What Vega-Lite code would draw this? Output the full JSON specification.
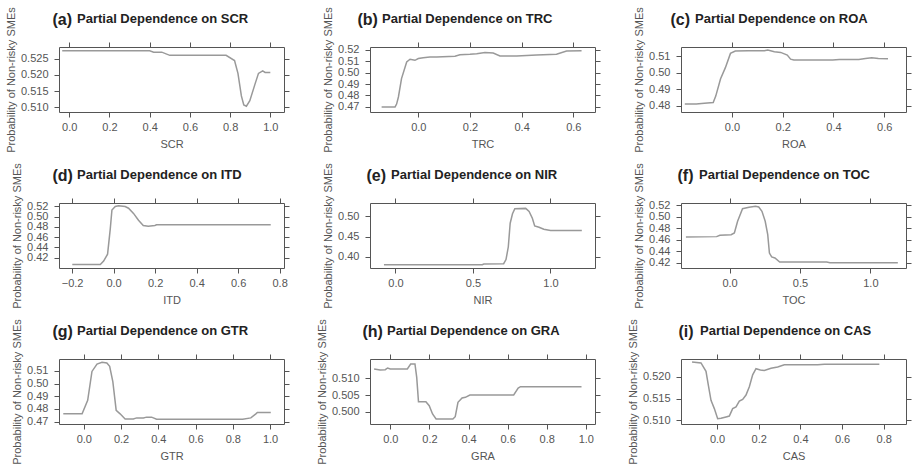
{
"$schema": "https://vega.github.io/schema/vega-lite/v6.json",
"background": "white",
"padding": {"left": 5, "top": 6, "right": 1, "bottom": 1},
"bounds": "flush",
"columns": 3,
"spacing": {"row": 91, "column": 86},
"concat": [
{
"title": {"text": "Partial Dependence on SCR", "dx": 18},
"width": 225, "height": 65,
"data": {"values": [
{"SCR": -0.035, "prob": 0.5275}, {"SCR": 0.40, "prob": 0.5275}, {"SCR": 0.42, "prob": 0.5271}, {"SCR": 0.46, "prob": 0.5271},
{"SCR": 0.50, "prob": 0.5261}, {"SCR": 0.78, "prob": 0.5261}, {"SCR": 0.822, "prob": 0.5245}, {"SCR": 0.839, "prob": 0.5205},
{"SCR": 0.856, "prob": 0.5135}, {"SCR": 0.868, "prob": 0.5107}, {"SCR": 0.881, "prob": 0.5103}, {"SCR": 0.898, "prob": 0.512},
{"SCR": 0.923, "prob": 0.517}, {"SCR": 0.941, "prob": 0.5205}, {"SCR": 0.962, "prob": 0.5213}, {"SCR": 0.974, "prob": 0.5208},
{"SCR": 1.0, "prob": 0.5208}
]},
"layer": [
{"mark": {"type": "line", "color": "#999999", "strokeWidth": 1.5},
 "encoding": {
  "x": {"field": "SCR", "type": "quantitative", "scale": {"domain": [-0.051, 1.068], "nice": false, "zero": false}, "axis": {"orient": "bottom", "title": "SCR", "values": [0, 0.2, 0.4, 0.6, 0.8, 1.0], "format": ".1f"}},
  "y": {"field": "prob", "type": "quantitative", "scale": {"domain": [0.5085, 0.5287], "nice": false, "zero": false}, "axis": {"orient": "left", "title": "Probability of Non-risky SMEs", "values": [0.510, 0.515, 0.520, 0.525], "format": ".3f"}}}},
{"mark": {"type": "line", "strokeOpacity": 0},
 "encoding": {
  "x": {"field": "SCR", "type": "quantitative", "scale": {"domain": [-0.051, 1.068], "nice": false, "zero": false}, "axis": {"orient": "top", "title": "(a)", "titleX": -7, "labels": false, "values": [0, 0.2, 0.4, 0.6, 0.8, 1.0]}},
  "y": {"field": "prob", "type": "quantitative", "scale": {"domain": [0.5085, 0.5287], "nice": false, "zero": false}, "axis": {"orient": "right", "title": null, "labels": false, "values": [0.510, 0.515, 0.520, 0.525]}}}}
],
"resolve": {"axis": {"x": "independent", "y": "independent"}}
},
{
"title": {"text": "Partial Dependence on TRC", "dx": 12},
"width": 225, "height": 65,
"data": {"values": [
{"TRC": -0.142, "prob": 0.470}, {"TRC": -0.09, "prob": 0.470}, {"TRC": -0.084, "prob": 0.4725}, {"TRC": -0.077, "prob": 0.4787},
{"TRC": -0.065, "prob": 0.4947}, {"TRC": -0.045, "prob": 0.5092}, {"TRC": -0.032, "prob": 0.5116}, {"TRC": -0.013, "prob": 0.5107},
{"TRC": 0.0, "prob": 0.5122}, {"TRC": 0.019, "prob": 0.513}, {"TRC": 0.045, "prob": 0.5136}, {"TRC": 0.071, "prob": 0.5136},
{"TRC": 0.142, "prob": 0.5142}, {"TRC": 0.161, "prob": 0.5156}, {"TRC": 0.2, "prob": 0.5159}, {"TRC": 0.226, "prob": 0.5165},
{"TRC": 0.258, "prob": 0.5174}, {"TRC": 0.29, "prob": 0.5171}, {"TRC": 0.316, "prob": 0.5145}, {"TRC": 0.381, "prob": 0.5145},
{"TRC": 0.458, "prob": 0.5153}, {"TRC": 0.535, "prob": 0.5159}, {"TRC": 0.574, "prob": 0.5188}, {"TRC": 0.632, "prob": 0.5191}
]},
"layer": [
{"mark": {"type": "line", "color": "#999999", "strokeWidth": 1.5},
 "encoding": {
  "x": {"field": "TRC", "type": "quantitative", "scale": {"domain": [-0.187, 0.684], "nice": false, "zero": false}, "axis": {"orient": "bottom", "title": "TRC", "values": [0, 0.2, 0.4, 0.6], "format": ".1f"}},
  "y": {"field": "prob", "type": "quantitative", "scale": {"domain": [0.4656, 0.5223], "nice": false, "zero": false}, "axis": {"orient": "left", "title": "Probability of Non-risky SMEs", "values": [0.47, 0.48, 0.49, 0.50, 0.51, 0.52], "format": ".2f"}}}},
{"mark": {"type": "line", "strokeOpacity": 0},
 "encoding": {
  "x": {"field": "TRC", "type": "quantitative", "scale": {"domain": [-0.187, 0.684], "nice": false, "zero": false}, "axis": {"orient": "top", "title": "(b)", "titleX": -13, "labels": false, "values": [0, 0.2, 0.4, 0.6]}},
  "y": {"field": "prob", "type": "quantitative", "scale": {"domain": [0.4656, 0.5223], "nice": false, "zero": false}, "axis": {"orient": "right", "title": null, "labels": false, "values": [0.47, 0.48, 0.49, 0.50, 0.51, 0.52]}}}}
],
"resolve": {"axis": {"x": "independent", "y": "independent"}}
},
{
"title": {"text": "Partial Dependence on ROA", "dx": 14},
"width": 225, "height": 65,
"data": {"values": [
{"ROA": -0.186, "prob": 0.481}, {"ROA": -0.141, "prob": 0.481}, {"ROA": -0.109, "prob": 0.4815}, {"ROA": -0.074, "prob": 0.4819},
{"ROA": -0.064, "prob": 0.4858}, {"ROA": -0.045, "prob": 0.4964}, {"ROA": -0.026, "prob": 0.5032}, {"ROA": -0.006, "prob": 0.5119},
{"ROA": 0.013, "prob": 0.5133}, {"ROA": 0.064, "prob": 0.5135}, {"ROA": 0.128, "prob": 0.5135}, {"ROA": 0.141, "prob": 0.5139},
{"ROA": 0.167, "prob": 0.5129}, {"ROA": 0.192, "prob": 0.5125}, {"ROA": 0.218, "prob": 0.5109}, {"ROA": 0.231, "prob": 0.5084},
{"ROA": 0.244, "prob": 0.5079}, {"ROA": 0.397, "prob": 0.5079}, {"ROA": 0.423, "prob": 0.5081}, {"ROA": 0.5, "prob": 0.5082},
{"ROA": 0.526, "prob": 0.5088}, {"ROA": 0.551, "prob": 0.5092}, {"ROA": 0.577, "prob": 0.5088}, {"ROA": 0.615, "prob": 0.5086}
]},
"layer": [
{"mark": {"type": "line", "color": "#999999", "strokeWidth": 1.5},
 "encoding": {
  "x": {"field": "ROA", "type": "quantitative", "scale": {"domain": [-0.201, 0.686], "nice": false, "zero": false}, "axis": {"orient": "bottom", "title": "ROA", "values": [0, 0.2, 0.4, 0.6], "format": ".1f"}},
  "y": {"field": "prob", "type": "quantitative", "scale": {"domain": [0.4761, 0.5158], "nice": false, "zero": false}, "axis": {"orient": "left", "title": "Probability of Non-risky SMEs", "values": [0.48, 0.49, 0.50, 0.51], "format": ".2f"}}}},
{"mark": {"type": "line", "strokeOpacity": 0},
 "encoding": {
  "x": {"field": "ROA", "type": "quantitative", "scale": {"domain": [-0.201, 0.686], "nice": false, "zero": false}, "axis": {"orient": "top", "title": "(c)", "titleX": -11, "labels": false, "values": [0, 0.2, 0.4, 0.6]}},
  "y": {"field": "prob", "type": "quantitative", "scale": {"domain": [0.4761, 0.5158], "nice": false, "zero": false}, "axis": {"orient": "right", "title": null, "labels": false, "values": [0.48, 0.49, 0.50, 0.51]}}}}
],
"resolve": {"axis": {"x": "independent", "y": "independent"}}
},
{
"title": {"text": "Partial Dependence on ITD", "dx": 18},
"width": 225, "height": 65,
"data": {"values": [
{"ITD": -0.199, "prob": 0.4065}, {"ITD": -0.064, "prob": 0.4065}, {"ITD": -0.048, "prob": 0.4132}, {"ITD": -0.029, "prob": 0.4268},
{"ITD": -0.016, "prob": 0.4761}, {"ITD": -0.008, "prob": 0.5132}, {"ITD": 0.008, "prob": 0.52}, {"ITD": 0.024, "prob": 0.5214},
{"ITD": 0.056, "prob": 0.52}, {"ITD": 0.072, "prob": 0.5166}, {"ITD": 0.096, "prob": 0.5065}, {"ITD": 0.12, "prob": 0.493},
{"ITD": 0.143, "prob": 0.4828}, {"ITD": 0.167, "prob": 0.4815}, {"ITD": 0.199, "prob": 0.4828}, {"ITD": 0.207, "prob": 0.4842},
{"ITD": 0.757, "prob": 0.4842}
]},
"layer": [
{"mark": {"type": "line", "color": "#999999", "strokeWidth": 1.5},
 "encoding": {
  "x": {"field": "ITD", "type": "quantitative", "scale": {"domain": [-0.263, 0.821], "nice": false, "zero": false}, "axis": {"orient": "bottom", "title": "ITD", "values": [-0.2, 0, 0.2, 0.4, 0.6, 0.8], "format": ".1f"}},
  "y": {"field": "prob", "type": "quantitative", "scale": {"domain": [0.3997, 0.5268], "nice": false, "zero": false}, "axis": {"orient": "left", "title": "Probability of Non-risky SMEs", "values": [0.42, 0.44, 0.46, 0.48, 0.50, 0.52], "format": ".2f"}}}},
{"mark": {"type": "line", "strokeOpacity": 0},
 "encoding": {
  "x": {"field": "ITD", "type": "quantitative", "scale": {"domain": [-0.263, 0.821], "nice": false, "zero": false}, "axis": {"orient": "top", "title": "(d)", "titleX": -7, "labels": false, "values": [-0.2, 0, 0.2, 0.4, 0.6, 0.8]}},
  "y": {"field": "prob", "type": "quantitative", "scale": {"domain": [0.3997, 0.5268], "nice": false, "zero": false}, "axis": {"orient": "right", "title": null, "labels": false, "values": [0.42, 0.44, 0.46, 0.48, 0.50, 0.52]}}}}
],
"resolve": {"axis": {"x": "independent", "y": "independent"}}
},
{
"title": {"text": "Partial Dependence on NIR", "dx": 21},
"width": 225, "height": 65,
"data": {"values": [
{"NIR": -0.074, "prob": 0.3808}, {"NIR": 0.56, "prob": 0.3808}, {"NIR": 0.57, "prob": 0.3825}, {"NIR": 0.698, "prob": 0.3833},
{"NIR": 0.713, "prob": 0.3933}, {"NIR": 0.728, "prob": 0.425}, {"NIR": 0.74, "prob": 0.4833}, {"NIR": 0.755, "prob": 0.5067},
{"NIR": 0.77, "prob": 0.5192}, {"NIR": 0.84, "prob": 0.52}, {"NIR": 0.862, "prob": 0.5125}, {"NIR": 0.883, "prob": 0.4958},
{"NIR": 0.898, "prob": 0.4767}, {"NIR": 0.926, "prob": 0.4733}, {"NIR": 0.957, "prob": 0.4683}, {"NIR": 1.0, "prob": 0.465},
{"NIR": 1.202, "prob": 0.465}
]},
"layer": [
{"mark": {"type": "line", "color": "#999999", "strokeWidth": 1.5},
 "encoding": {
  "x": {"field": "NIR", "type": "quantitative", "scale": {"domain": [-0.164, 1.287], "nice": false, "zero": false}, "axis": {"orient": "bottom", "title": "NIR", "values": [0, 0.5, 1.0], "format": ".1f"}},
  "y": {"field": "prob", "type": "quantitative", "scale": {"domain": [0.3725, 0.5333], "nice": false, "zero": false}, "axis": {"orient": "left", "title": "Probability of Non-risky SMEs", "values": [0.40, 0.45, 0.50], "format": ".2f"}}}},
{"mark": {"type": "line", "strokeOpacity": 0},
 "encoding": {
  "x": {"field": "NIR", "type": "quantitative", "scale": {"domain": [-0.164, 1.287], "nice": false, "zero": false}, "axis": {"orient": "top", "title": "(e)", "titleX": -4, "labels": false, "values": [0, 0.5, 1.0]}},
  "y": {"field": "prob", "type": "quantitative", "scale": {"domain": [0.3725, 0.5333], "nice": false, "zero": false}, "axis": {"orient": "right", "title": null, "labels": false, "values": [0.40, 0.45, 0.50]}}}}
],
"resolve": {"axis": {"x": "independent", "y": "independent"}}
},
{
"title": {"text": "Partial Dependence on TOC", "dx": 18},
"width": 225, "height": 65,
"data": {"values": [
{"TOC": -0.31, "prob": 0.4651}, {"TOC": -0.092, "prob": 0.4657}, {"TOC": -0.069, "prob": 0.468}, {"TOC": 0.011, "prob": 0.4691},
{"TOC": 0.034, "prob": 0.472}, {"TOC": 0.057, "prob": 0.4923}, {"TOC": 0.092, "prob": 0.5142}, {"TOC": 0.138, "prob": 0.5165},
{"TOC": 0.184, "prob": 0.5183}, {"TOC": 0.207, "prob": 0.5171}, {"TOC": 0.23, "prob": 0.5096}, {"TOC": 0.253, "prob": 0.4923},
{"TOC": 0.271, "prob": 0.4691}, {"TOC": 0.283, "prob": 0.4373}, {"TOC": 0.299, "prob": 0.4304}, {"TOC": 0.322, "prob": 0.4287},
{"TOC": 0.356, "prob": 0.4217}, {"TOC": 0.69, "prob": 0.4217}, {"TOC": 0.713, "prob": 0.4206}, {"TOC": 1.195, "prob": 0.4206}
]},
"layer": [
{"mark": {"type": "line", "color": "#999999", "strokeWidth": 1.5},
 "encoding": {
  "x": {"field": "TOC", "type": "quantitative", "scale": {"domain": [-0.345, 1.253], "nice": false, "zero": false}, "axis": {"orient": "bottom", "title": "TOC", "values": [0, 0.5, 1.0], "format": ".1f"}},
  "y": {"field": "prob", "type": "quantitative", "scale": {"domain": [0.4113, 0.524], "nice": false, "zero": false}, "axis": {"orient": "left", "title": "Probability of Non-risky SMEs", "values": [0.42, 0.44, 0.46, 0.48, 0.50, 0.52], "format": ".2f"}}}},
{"mark": {"type": "line", "strokeOpacity": 0},
 "encoding": {
  "x": {"field": "TOC", "type": "quantitative", "scale": {"domain": [-0.345, 1.253], "nice": false, "zero": false}, "axis": {"orient": "top", "title": "(f)", "titleX": -4, "labels": false, "values": [0, 0.5, 1.0]}},
  "y": {"field": "prob", "type": "quantitative", "scale": {"domain": [0.4113, 0.524], "nice": false, "zero": false}, "axis": {"orient": "right", "title": null, "labels": false, "values": [0.42, 0.44, 0.46, 0.48, 0.50, 0.52]}}}}
],
"resolve": {"axis": {"x": "independent", "y": "independent"}}
},
{
"title": {"text": "Partial Dependence on GTR", "dx": 18},
"width": 225, "height": 65,
"data": {"values": [
{"GTR": -0.11, "prob": 0.4761}, {"GTR": -0.009, "prob": 0.4761}, {"GTR": 0.021, "prob": 0.4868}, {"GTR": 0.044, "prob": 0.5095},
{"GTR": 0.071, "prob": 0.5153}, {"GTR": 0.098, "prob": 0.5167}, {"GTR": 0.124, "prob": 0.5161}, {"GTR": 0.139, "prob": 0.5135},
{"GTR": 0.156, "prob": 0.5015}, {"GTR": 0.174, "prob": 0.4788}, {"GTR": 0.195, "prob": 0.4761}, {"GTR": 0.222, "prob": 0.4721},
{"GTR": 0.266, "prob": 0.4721}, {"GTR": 0.284, "prob": 0.4729}, {"GTR": 0.32, "prob": 0.4729}, {"GTR": 0.337, "prob": 0.4735},
{"GTR": 0.364, "prob": 0.4735}, {"GTR": 0.391, "prob": 0.4719}, {"GTR": 0.853, "prob": 0.4719}, {"GTR": 0.897, "prob": 0.4729},
{"GTR": 0.924, "prob": 0.4761}, {"GTR": 0.932, "prob": 0.4772}, {"GTR": 1.004, "prob": 0.4772}
]},
"layer": [
{"mark": {"type": "line", "color": "#999999", "strokeWidth": 1.5},
 "encoding": {
  "x": {"field": "GTR", "type": "quantitative", "scale": {"domain": [-0.133, 1.075], "nice": false, "zero": false}, "axis": {"orient": "bottom", "title": "GTR", "values": [0, 0.2, 0.4, 0.6, 0.8, 1.0], "format": ".1f"}},
  "y": {"field": "prob", "type": "quantitative", "scale": {"domain": [0.4681, 0.5193], "nice": false, "zero": false}, "axis": {"orient": "left", "title": "Probability of Non-risky SMEs", "values": [0.47, 0.48, 0.49, 0.50, 0.51], "format": ".2f"}}}},
{"mark": {"type": "line", "strokeOpacity": 0},
 "encoding": {
  "x": {"field": "GTR", "type": "quantitative", "scale": {"domain": [-0.133, 1.075], "nice": false, "zero": false}, "axis": {"orient": "top", "title": "(g)", "titleX": -7, "labels": false, "values": [0, 0.2, 0.4, 0.6, 0.8, 1.0]}},
  "y": {"field": "prob", "type": "quantitative", "scale": {"domain": [0.4681, 0.5193], "nice": false, "zero": false}, "axis": {"orient": "right", "title": null, "labels": false, "values": [0.47, 0.48, 0.49, 0.50, 0.51]}}}}
],
"resolve": {"axis": {"x": "independent", "y": "independent"}}
},
{
"title": {"text": "Partial Dependence on GRA", "dx": 17},
"width": 225, "height": 65,
"data": {"values": [
{"GRA": -0.083, "prob": 0.5128}, {"GRA": -0.052, "prob": 0.5125}, {"GRA": -0.026, "prob": 0.5126}, {"GRA": -0.014, "prob": 0.5131},
{"GRA": 0.0, "prob": 0.5128}, {"GRA": 0.087, "prob": 0.5128}, {"GRA": 0.104, "prob": 0.5143}, {"GRA": 0.126, "prob": 0.5143},
{"GRA": 0.135, "prob": 0.5103}, {"GRA": 0.144, "prob": 0.503}, {"GRA": 0.182, "prob": 0.503}, {"GRA": 0.199, "prob": 0.5018},
{"GRA": 0.216, "prob": 0.4993}, {"GRA": 0.234, "prob": 0.4978}, {"GRA": 0.32, "prob": 0.4978}, {"GRA": 0.332, "prob": 0.4985},
{"GRA": 0.346, "prob": 0.5028}, {"GRA": 0.367, "prob": 0.5041}, {"GRA": 0.384, "prob": 0.5043}, {"GRA": 0.407, "prob": 0.505},
{"GRA": 0.631, "prob": 0.505}, {"GRA": 0.654, "prob": 0.5071}, {"GRA": 0.666, "prob": 0.5075}, {"GRA": 0.978, "prob": 0.5075}
]},
"layer": [
{"mark": {"type": "line", "color": "#999999", "strokeWidth": 1.5},
 "encoding": {
  "x": {"field": "GRA", "type": "quantitative", "scale": {"domain": [-0.104, 1.047], "nice": false, "zero": false}, "axis": {"orient": "bottom", "title": "GRA", "values": [0, 0.2, 0.4, 0.6, 0.8, 1.0], "format": ".1f"}},
  "y": {"field": "prob", "type": "quantitative", "scale": {"domain": [0.4963, 0.5158], "nice": false, "zero": false}, "axis": {"orient": "left", "title": "Probability of Non-risky SMEs", "values": [0.500, 0.505, 0.510], "format": ".3f"}}}},
{"mark": {"type": "line", "strokeOpacity": 0},
 "encoding": {
  "x": {"field": "GRA", "type": "quantitative", "scale": {"domain": [-0.104, 1.047], "nice": false, "zero": false}, "axis": {"orient": "top", "title": "(h)", "titleX": -8, "labels": false, "values": [0, 0.2, 0.4, 0.6, 0.8, 1.0]}},
  "y": {"field": "prob", "type": "quantitative", "scale": {"domain": [0.4963, 0.5158], "nice": false, "zero": false}, "axis": {"orient": "right", "title": null, "labels": false, "values": [0.500, 0.505, 0.510]}}}}
],
"resolve": {"axis": {"x": "independent", "y": "independent"}}
},
{
"title": {"text": "Partial Dependence on CAS", "dx": 19},
"width": 225, "height": 65,
"data": {"values": [
{"CAS": -0.12, "prob": 0.5233}, {"CAS": -0.077, "prob": 0.5231}, {"CAS": -0.053, "prob": 0.5212}, {"CAS": -0.042, "prob": 0.5181},
{"CAS": -0.029, "prob": 0.5146}, {"CAS": -0.013, "prob": 0.5127}, {"CAS": 0.003, "prob": 0.5104}, {"CAS": 0.019, "prob": 0.5105},
{"CAS": 0.043, "prob": 0.5108}, {"CAS": 0.059, "prob": 0.511}, {"CAS": 0.075, "prob": 0.5127}, {"CAS": 0.091, "prob": 0.5131},
{"CAS": 0.107, "prob": 0.5144}, {"CAS": 0.123, "prob": 0.5148}, {"CAS": 0.139, "prob": 0.5158}, {"CAS": 0.155, "prob": 0.5177},
{"CAS": 0.171, "prob": 0.5204}, {"CAS": 0.187, "prob": 0.5218}, {"CAS": 0.208, "prob": 0.5215}, {"CAS": 0.227, "prob": 0.5214},
{"CAS": 0.259, "prob": 0.5219}, {"CAS": 0.291, "prob": 0.5222}, {"CAS": 0.323, "prob": 0.5227}, {"CAS": 0.483, "prob": 0.5227},
{"CAS": 0.515, "prob": 0.5228}, {"CAS": 0.779, "prob": 0.5228}
]},
"layer": [
{"mark": {"type": "line", "color": "#999999", "strokeWidth": 1.5},
 "encoding": {
  "x": {"field": "CAS", "type": "quantitative", "scale": {"domain": [-0.173, 0.907], "nice": false, "zero": false}, "axis": {"orient": "bottom", "title": "CAS", "values": [0, 0.2, 0.4, 0.6, 0.8], "format": ".1f"}},
  "y": {"field": "prob", "type": "quantitative", "scale": {"domain": [0.5092, 0.524], "nice": false, "zero": false}, "axis": {"orient": "left", "title": "Probability of Non-risky SMEs", "values": [0.510, 0.515, 0.520], "format": ".3f"}}}},
{"mark": {"type": "line", "strokeOpacity": 0},
 "encoding": {
  "x": {"field": "CAS", "type": "quantitative", "scale": {"domain": [-0.173, 0.907], "nice": false, "zero": false}, "axis": {"orient": "top", "title": "(i)", "titleX": -3, "labels": false, "values": [0, 0.2, 0.4, 0.6, 0.8]}},
  "y": {"field": "prob", "type": "quantitative", "scale": {"domain": [0.5092, 0.524], "nice": false, "zero": false}, "axis": {"orient": "right", "title": null, "labels": false, "values": [0.510, 0.515, 0.520]}}}}
],
"resolve": {"axis": {"x": "independent", "y": "independent"}}
}
],
"config": {
 "view": {"stroke": null},
 "axis": {"domainColor": "#555555", "tickColor": "#555555", "labelColor": "#555555", "titleColor": "#555555",
          "labelFont": "Liberation Sans", "titleFont": "Liberation Sans", "labelFontSize": 11, "titleFontSize": 11,
          "titleFontWeight": "normal", "tickSize": 5, "grid": false, "domainWidth": 1, "tickWidth": 1,
          "labelOverlap": false, "labelFlush": false, "titleLimit": 400},
 "axisX": {"labelPadding": 4, "titlePadding": 6},
 "axisY": {"labelPadding": 6, "titlePadding": 4},
 "axisTop": {"titleFontSize": 16, "titleFontWeight": "bold", "titleColor": "#222222", "titleAlign": "left",
             "titleBaseline": "alphabetic", "titleY": -23, "titleAngle": 0},
 "title": {"font": "Liberation Sans", "fontSize": 13, "fontWeight": "bold", "color": "#222222",
           "anchor": "start", "frame": "group", "offset": -19}
}
}
